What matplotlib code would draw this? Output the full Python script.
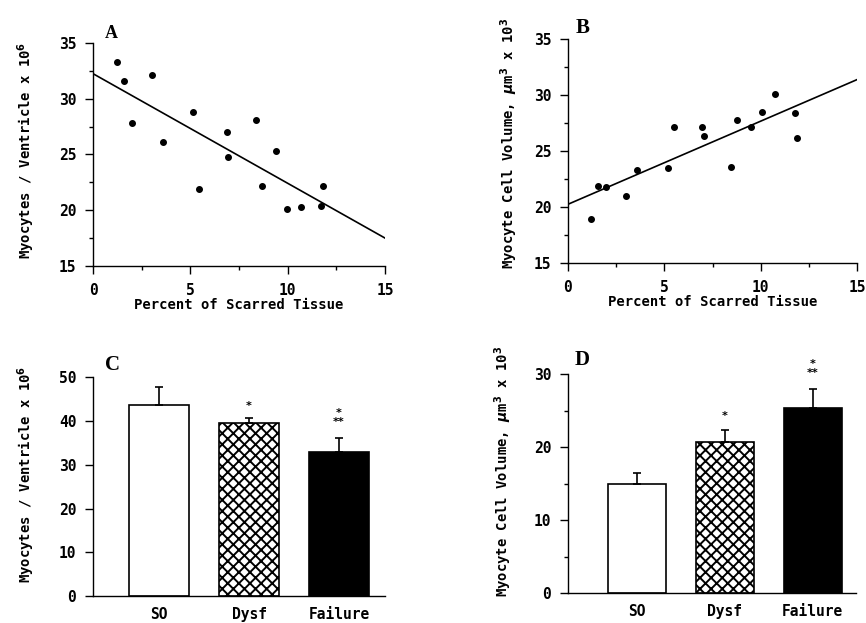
import numpy as np
import matplotlib
matplotlib.use("Agg")
import matplotlib.pyplot as plt
from matplotlib.ticker import MultipleLocator

plt.rcParams['font.family'] = ['DejaVu Sans Mono']
plt.rcParams['font.weight'] = 'bold'
plt.rcParams['hatch.linewidth'] = 1.4

# panel A: myocyte number vs scar
scar_a = [1.22, 1.59, 2.0, 3.01, 3.58, 5.15, 5.45, 6.87, 6.95, 8.37, 8.68, 9.40, 9.98, 10.68, 11.71, 11.80]
myo_a = [33.3, 31.6, 27.8, 32.1, 26.1, 28.8, 21.9, 27.0, 24.8, 28.1, 22.2, 25.3, 20.1, 20.3, 20.4, 22.2]
fit_a = (32.25, -0.983)

# panel B: cell volume vs scar
scar_b = [1.19, 1.57, 1.97, 2.99, 3.6, 5.21, 5.50, 6.94, 7.06, 8.44, 8.76, 9.48, 10.09, 10.76, 11.76, 11.87]
vol_b = [19.0, 21.9, 21.8, 21.0, 23.3, 23.5, 27.2, 27.2, 26.4, 23.6, 27.8, 27.2, 28.5, 30.15, 28.4, 26.2]
fit_b = (20.27, 0.742)

groups = ['SO', 'Dysf', 'Failure']
myo_c = [43.6, 39.5, 32.9]
myo_c_err = [4.2, 1.2, 3.15]
vol_d = [14.96, 20.75, 25.4]
vol_d_err = [1.45, 1.65, 2.5]

W, H = 866, 623
fig = plt.figure(figsize=(W / 100, H / 100), dpi=100)


def style(ax):
    ax.spines['top'].set_visible(False)
    ax.spines['right'].set_visible(False)
    for s in ['left', 'bottom']:
        ax.spines[s].set_linewidth(1.0)
    ax.tick_params(which='major', direction='out', length=6, width=1.0, labelsize=10.5, pad=6)
    ax.tick_params(which='minor', direction='out', length=3, width=1.0)
    for t in ax.get_xticklabels() + ax.get_yticklabels():
        t.set_fontweight('bold')


def scatter_panel(rect, x, y, fit, ylabel, ly):
    ax = fig.add_axes(rect)
    ax.plot(x, y, 'o', color='black', markersize=4)
    xs = np.array([0, 15])
    ax.plot(xs, fit[0] + fit[1] * xs, color='black', lw=1.2)
    ax.set_xlim(0, 15)
    ax.set_ylim(15, 35)
    ax.xaxis.set_major_locator(MultipleLocator(5))
    ax.xaxis.set_minor_locator(MultipleLocator(2.5))
    ax.yaxis.set_major_locator(MultipleLocator(5))
    ax.yaxis.set_minor_locator(MultipleLocator(2.5))
    style(ax)
    ax.set_xlabel('Percent of Scarred Tissue', fontsize=10, fontweight='bold', labelpad=0)
    ax.set_ylabel(ylabel, fontsize=10, fontweight='bold')
    ax.yaxis.set_label_coords(ly[0], ly[1])
    return ax


def bar_panel(rect, vals, errs, ylim, major, minor, xlim, ylabel, ly):
    ax = fig.add_axes(rect)
    pos = np.arange(len(groups))
    ax.bar(pos[0], vals[0], width=0.66, color='white', edgecolor='black', lw=1.2)
    ax.bar(pos[1], vals[1], width=0.66, color='white', edgecolor='black', hatch='xxx', lw=1.2)
    ax.bar(pos[2], vals[2], width=0.66, color='black', edgecolor='black', lw=1.2)
    ax.errorbar(pos, vals, yerr=[np.zeros(3), errs], fmt='none', ecolor='black',
                elinewidth=1.2, capsize=3, capthick=1.2)
    ax.set_xlim(*xlim)
    ax.set_ylim(*ylim)
    ax.set_xticks(pos)
    ax.set_xticklabels(groups)
    ax.yaxis.set_major_locator(MultipleLocator(major))
    if minor:
        ax.yaxis.set_minor_locator(MultipleLocator(minor))
    style(ax)
    ax.tick_params(axis='x', length=0, pad=8)
    ax.set_ylabel(ylabel, fontsize=10, fontweight='bold')
    ax.yaxis.set_label_coords(ly[0], ly[1])
    return ax


axA = scatter_panel([93 / W, 1 - 266 / H, 292 / W, 223 / H], scar_a, myo_a, fit_a,
                    'Myocytes / Ventricle x 10$^6$', (-0.192, 0.52))
axB = scatter_panel([568 / W, 1 - 263.3 / H, 289 / W, 224 / H], scar_b, vol_b, fit_b,
                    r'Myocyte Cell Volume, $\mu$m$^3$ x 10$^3$', (-0.165, 0.535))
axC = bar_panel([93 / W, 1 - 596 / H, 292 / W, 218.7 / H], myo_c, myo_c_err, (0, 50), 10, None,
                (-0.733, 2.51), 'Myocytes / Ventricle x 10$^6$', (-0.192, 0.558))
axD = bar_panel([568 / W, 1 - 593.3 / H, 288 / W, 219.3 / H], vol_d, vol_d_err, (0, 30), 10, 5,
                (-0.784, 2.494), r'Myocyte Cell Volume, $\mu$m$^3$ x 10$^3$', (-0.188, 0.555))

# significance marks
axC.text(1, 43.4, '*', ha='center', va='center', fontsize=8, family='DejaVu Sans')
axC.text(2, 40.9, '*\n**', ha='center', va='center', fontsize=8, family='DejaVu Sans',
         linespacing=0.85)
axD.text(1, 24.2, '*', ha='center', va='center', fontsize=8, family='DejaVu Sans')
axD.text(2, 30.75, '*\n**', ha='center', va='center', fontsize=8, family='DejaVu Sans',
         linespacing=0.85)

# panel letters
for lab, x, y, fs in [('A', 111, 33, 13), ('B', 583, 28, 15), ('C', 112, 365, 15), ('D', 582, 360, 15)]:
    fig.text(x / W, 1 - y / H, lab, ha='center', va='center', fontsize=fs,
             family='Liberation Serif', fontweight='bold')

fig.savefig('out.png', dpi=100)
